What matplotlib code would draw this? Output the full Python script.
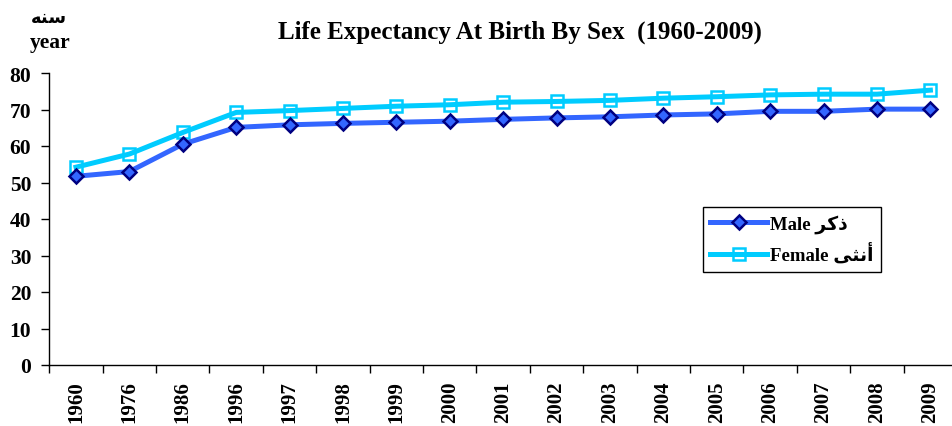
import matplotlib
matplotlib.use("Agg")
import matplotlib.pyplot as plt
from matplotlib.ticker import FixedLocator, NullFormatter

years = ['1960', '1976', '1986', '1996', '1997', '1998', '1999', '2000', '2001',
         '2002', '2003', '2004', '2005', '2006', '2007', '2008', '2009']
male = [51.7, 53.0, 60.5, 65.1, 65.8, 66.2, 66.5, 66.8, 67.3, 67.7, 68.0,
        68.5, 68.8, 69.5, 69.5, 70.1, 70.1]
female = [54.2, 57.8, 63.7, 69.2, 69.7, 70.3, 70.9, 71.3, 72.0, 72.2, 72.5,
          73.1, 73.5, 74.0, 74.2, 74.2, 75.3]
yticks = [0, 10, 20, 30, 40, 50, 60, 70, 80]

# Arabic words, pre-shaped (presentation forms, visual order)
ar_year = "\uFEEA\uFEE8\uFEB3"      # سنه
ar_male = "\uFEAE\uFEDB\uFEAB"      # ذكر
ar_female = "\uFEF0\uFE9C\uFEE7\uFE83"  # أنثى

fam = ['Liberation Serif', 'DejaVu Sans']
plt.rcParams['font.family'] = fam
plt.rcParams['font.weight'] = 'bold'

W, H = 953, 427
fig = plt.figure(figsize=(W / 100, H / 100), dpi=100)
x0, y0 = 49.3, 366
x1, y1 = 49.3 + 17 * 53.4, 74
ax = fig.add_axes([x0 / W, 1 - y0 / H, (x1 - x0) / W, (y0 - y1) / H])

x = list(range(len(years)))
ax.plot(x, male, color='#3366FF', lw=3.6, marker='D', markersize=6.8,
        markerfacecolor='#3366FF', markeredgecolor='#000080', markeredgewidth=1.8,
        label='Male ' + ar_male, zorder=3)
ax.plot(x, female, color='#00CCFF', lw=3.6, marker='s', markersize=8,
        markerfacecolor='none', markeredgecolor='#00CCFF', markeredgewidth=1.8,
        label='Female ' + ar_female, zorder=2)

ax.set_xlim(-0.5, len(years) - 0.5)
ax.set_ylim(0, 80)
ax.set_yticks(yticks)
ax.set_yticklabels([str(v) for v in yticks], fontsize=15.5, fontweight='bold')
ax.set_xticks(x)
ax.set_xticklabels(years, rotation=90, fontsize=15, fontweight='bold')
ax.tick_params(axis='x', which='major', length=0, pad=11)
ax.xaxis.set_minor_locator(FixedLocator([i - 0.5 for i in range(len(years) + 1)]))
ax.xaxis.set_minor_formatter(NullFormatter())
ax.tick_params(axis='x', which='minor', length=6, width=1, direction='out')
ax.tick_params(axis='y', length=6, width=1, direction='out', pad=7)
for s in ['top', 'right']:
    ax.spines[s].set_visible(False)
for s in ['left', 'bottom']:
    ax.spines[s].set_linewidth(1)

fig.text(520 / W, 1 - 32 / H, 'Life Expectancy At Birth By Sex  (1960-2009)',
         ha='center', va='center', fontsize=18, fontweight='bold')
fig.text(50 / W, 1 - 43 / H, 'year', ha='center', va='center', fontsize=15.5, fontweight='bold')
fig.text(49 / W, 1 - 18 / H, ar_year, ha='center', va='center', fontsize=13,
         fontweight='bold', family=['DejaVu Sans'])

leg = ax.legend(loc='upper left', bbox_to_anchor=(703 / W, 1 - 208 / H),
                bbox_transform=fig.transFigure, fancybox=False, edgecolor='black',
                framealpha=1, prop={'size': 13.5, 'weight': 'bold'},
                handlelength=3.0, handletextpad=0.2, borderpad=0.4,
                labelspacing=0.5, borderaxespad=0)
leg.get_frame().set_linewidth(1)

fig.savefig('out.png', dpi=100)
